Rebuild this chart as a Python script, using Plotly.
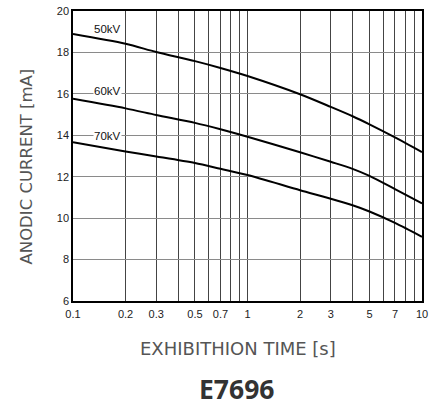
import math
import plotly.graph_objects as go

# exposure time [s]
time_s = [0.1, 0.2, 0.3, 0.5, 0.7, 1, 2, 3, 4, 5, 7, 10]

# anodic current [mA] per tube voltage
current_50kv = [18.89, 18.42, 18.02, 17.58, 17.25, 16.86, 15.98, 15.37, 14.92, 14.53, 13.90, 13.19]
current_60kv = [15.76, 15.30, 14.98, 14.60, 14.29, 13.93, 13.18, 12.72, 12.38, 12.04, 11.40, 10.71]
current_70kv = [13.67, 13.22, 12.98, 12.66, 12.38, 12.08, 11.35, 10.94, 10.62, 10.32, 9.77, 9.10]

curve_labels = ["50kV", "60kV", "70kV"]
label_y = [19.13, 16.15, 13.96]
label_x = 0.158

x_ticks = [0.1, 0.2, 0.3, 0.4, 0.5, 0.6, 0.7, 0.8, 0.9, 1, 2, 3, 4, 5, 6, 7, 8, 9, 10]
x_labels = ["0.1", "0.2", "0.3", "", "0.5", "", "0.7", "", "", "1", "2", "3", "", "5", "", "7", "", "", "10"]
y_ticks = [6, 8, 10, 12, 14, 16, 18, 20]

W, H = 430, 406
L, R, T, B = 73, 8, 11, 105
PW, PH = W - L - R, H - T - B


def paper(px, py):
    # pixel -> paper coords
    return (px - L) / PW, (H - B - py) / PH


fig = go.Figure()
for ys in (current_50kv, current_60kv, current_70kv):
    fig.add_trace(go.Scatter(
        x=time_s, y=ys, mode="lines",
        line=dict(color="black", width=2, shape="spline", smoothing=0.8),
        showlegend=False, hoverinfo="skip",
    ))

for txt, yv in zip(curve_labels, label_y):
    fig.add_annotation(
        x=math.log10(label_x), y=yv, xref="x", yref="y", text=txt, showarrow=False,
        font=dict(family="Liberation Sans, Arial", size=11.5, color="#111"),
        bgcolor="white" if txt != "50kV" else None, borderpad=0,
    )

tick_font = dict(family="Liberation Sans, Arial", size=11, color="#222")
fig.update_xaxes(
    type="log", range=[-1, 1], tickvals=x_ticks, ticktext=x_labels, tickfont=tick_font,
    showgrid=True, gridcolor="#444", gridwidth=1, ticks="", showline=True, mirror=True,
    linecolor="black", linewidth=1.5, zeroline=False, automargin=False, ticklabelstandoff=2,
    ticklabeloverflow="allow",
)
fig.update_yaxes(
    range=[6, 20], tickvals=y_ticks, tickfont=tick_font,
    showgrid=True, gridcolor="#8a8a8a", gridwidth=1, ticks="", showline=True, mirror=True,
    linecolor="black", linewidth=1.5, zeroline=False, automargin=False,
    ticklabeloverflow="allow",
)

tx, ty = paper(26, 166.5)
fig.add_annotation(x=tx, y=ty, xref="paper", yref="paper", text="ANODIC CURRENT [mA]",
                   showarrow=False, font=dict(family="DejaVu Sans", size=16.5, color="#555"),
                   textangle=-90, xanchor="center", yanchor="middle")
tx, ty = paper(238, 348)
fig.add_annotation(x=tx, y=ty, xref="paper", yref="paper", text="EXHIBITHION TIME [s]",
                   showarrow=False, font=dict(family="DejaVu Sans", size=18, color="#555"),
                   xanchor="center", yanchor="middle")
tx, ty = paper(236, 389)
fig.add_annotation(x=tx, y=ty, xref="paper", yref="paper", text="<b>E7696</b>",
                   showarrow=False, font=dict(family="Noto Sans", size=26.5, color="#333"),
                   xanchor="center", yanchor="middle")

fig.update_layout(
    width=W, height=H,
    margin=dict(l=L, r=R, t=T, b=B),
    plot_bgcolor="white", paper_bgcolor="white",
)

# drop the default body margin so the figure fills the window exactly
fig.write_html(
    "out.html",
    config={"displayModeBar": False},
    post_script="document.body.style.margin='0';document.body.style.overflow='hidden';",
)
